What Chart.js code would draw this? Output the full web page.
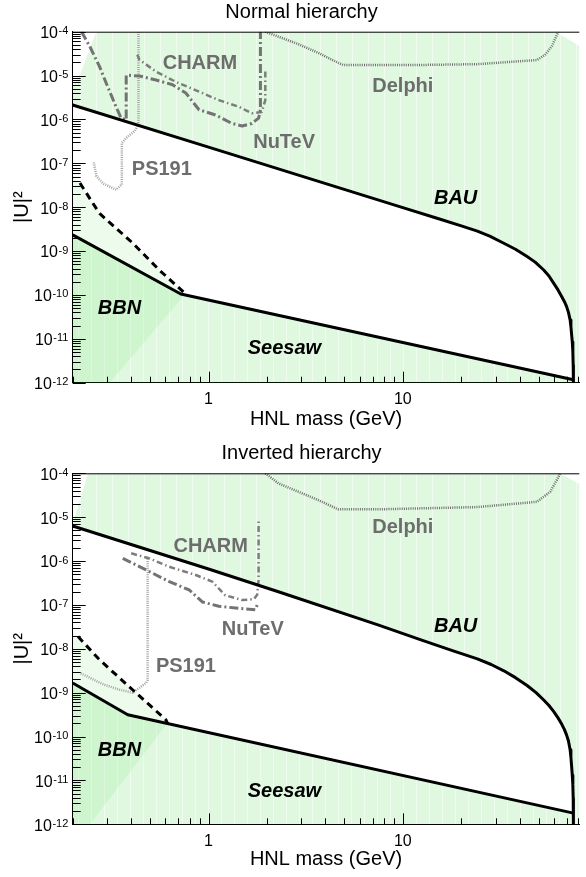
<!DOCTYPE html>
<html><head><meta charset="utf-8">
<script src="https://cdn.jsdelivr.net/npm/chart.js@4/dist/chart.umd.min.js"></script>
<style>html,body{margin:0;padding:0;background:#fff;}canvas{display:block;}</style>
</head><body>
<canvas id="nh" width="586" height="438"></canvas>
<canvas id="ih" width="586" height="439"></canvas>
<script>
// ---------------- axes ----------------
const massRange = [0.2, 81];
const couplingRange = [1e-12, 1e-4];
const massTickValues = [0.2,0.3,0.4,0.5,0.6,0.7,0.8,0.9,1,2,3,4,5,6,7,8,9,10,20,30,40,50,60,70,80];
const massLabelValues = [1, 10];
const massLabelTexts = ['1', '10'];
const couplingDecades = [1e-12,1e-11,1e-10,1e-9,1e-8,1e-7,1e-6,1e-5,1e-4];
const couplingLabelBase = '10';
const couplingLabelExponents = ['-12','-11','-10','-9','-8','-7','-6','-5','-4'];
const minorMultipliers = [2,3,4,5,6,7,8,9];

// ---------------- Normal hierarchy ----------------
const nhBauMass = [0.2, 1, 10, 15, 20, 24.2, 28, 33.1, 38, 43.6, 48, 53.1, 56.5, 59.7, 62.8, 65.8, 67.8, 69.6, 71.2, 72.6, 73.3, 73.8, 74.5, 75.0, 75.3, 75.5, 75.5];
const nhBauU    = [2.14e-6, 2.34e-7, 9.8e-9, 5.6e-9, 3.74e-9, 2.85e-9, 2.19e-9, 1.51e-9, 1.1e-9, 7.5e-10, 5.6e-10, 3.7e-10, 2.7e-10, 1.86e-10, 1.32e-10, 9.1e-11, 7.1e-11, 5.5e-11, 4.0e-11, 2.7e-11, 1.9e-11, 1.35e-11, 8.5e-12, 5.0e-12, 2.5e-12, 1.17e-12, 1e-12];
const nhSeesawMass = [0.2, 0.72, 75.5];
const nhSeesawU    = [2.34e-9, 1.05e-10, 1.17e-12];
const nhBbnMass = [0.218, 0.254, 0.275, 0.408, 0.558, 0.76];
const nhBbnU    = [3.55e-8, 1.23e-8, 7.2e-9, 1.51e-9, 3.7e-10, 1.07e-10];
const nhPs191Mass = [0.436, 0.436, 0.416, 0.377, 0.358, 0.358, 0.335, 0.286, 0.265, 0.256];
const nhPs191U    = [1e-4, 7.6e-7, 5.4e-7, 3.8e-7, 2.9e-7, 3.3e-8, 2.5e-8, 3.5e-8, 5.1e-8, 1.12e-7];
const nhNutevMass = [0.222, 0.245, 0.275, 0.298, 0.329, 0.355, 0.377, 0.377, 0.441, 0.537, 0.653, 0.764, 0.894, 1.09, 1.32, 1.49, 1.67, 1.81, 1.85, 1.85];
const nhNutevU    = [1e-4, 4.6e-5, 1.6e-5, 6.6e-6, 2.3e-6, 1.07e-6, 9.8e-7, 1.02e-5, 9.8e-6, 7.9e-6, 6.2e-6, 4.0e-6, 1.66e-6, 1.26e-6, 8.1e-7, 7.1e-7, 8.1e-7, 1.07e-6, 1.66e-6, 1e-4];
const nhCharmMass = [0.43, 0.441, 0.537, 0.68, 0.894, 1.13, 1.43, 1.67, 1.88, 1.96, 1.96];
const nhCharmU    = [3.0e-5, 2.3e-5, 1.23e-5, 7.2e-6, 4.3e-6, 2.75e-6, 1.95e-6, 1.38e-6, 1.48e-6, 2.75e-6, 1.35e-5];
const nhDelphiMass = [1.96, 2.9, 3.67, 4.65, 4.93, 11.9, 24.2, 49, 53.9, 58.5, 63.2];
const nhDelphiU    = [1e-4, 5.2e-5, 3.3e-5, 1.95e-5, 1.74e-5, 1.74e-5, 1.82e-5, 2.26e-5, 2.95e-5, 4.7e-5, 1e-4];
// region boundaries (excluded areas)
const nhBauEdgeMass = [81, 81, 61.4, 0.265, 0.219, 0.2];
const nhBauEdgeU    = [1e-12, 4.7e-5, 1e-4, 1e-4, 1.12e-5, 5.6e-6];
const nhBbnStartMass = [0.2];
const nhBbnStartU    = [5.2e-8];
const nhBbnEdgeMass = [0.31, 0.2];
const nhBbnEdgeU    = [1e-12, 1e-12];

// ---------------- Inverted hierarchy ----------------
const ihBauMass = [0.2, 1, 2.29, 7.45, 12.4, 18, 24.2, 28.5, 33.1, 38, 43.6, 48.5, 53.1, 56.5, 59.7, 62.8, 65.8, 67.8, 69.6, 71.2, 72.6, 73.3, 73.8, 74.5, 75.0, 75.3, 75.5, 75.5];
const ihBauU    = [6.3e-6, 6.6e-7, 2.0e-7, 3.5e-8, 1.6e-8, 9.1e-9, 5.9e-9, 4.39e-9, 3.15e-9, 2.2e-9, 1.46e-9, 1.0e-9, 6.8e-10, 5.1e-10, 3.75e-10, 2.7e-10, 1.9e-10, 1.46e-10, 1.09e-10, 7.9e-11, 5.0e-11, 3.4e-11, 2.3e-11, 1.32e-11, 7.9e-12, 4.0e-12, 1.15e-12, 1e-12];
const ihSeesawMass = [0.2, 0.384, 75.5];
const ihSeesawU    = [1.66e-9, 3.13e-10, 1.8e-12];
const ihBbnMass = [0.213, 0.275, 0.408, 0.604, 0.615];
const ihBbnU    = [1.9e-8, 5.6e-9, 1.15e-9, 2.4e-10, 2.0e-10];
const ihPs191Mass = [0.486, 0.486, 0.477, 0.408, 0.348, 0.287, 0.222, 0.218];
const ihPs191U    = [1.26e-6, 1.95e-9, 1.66e-9, 1.0e-9, 1.17e-9, 1.55e-9, 2.7e-9, 2.8e-9];
const ihCharmMass = [0.40, 0.496, 0.628, 0.86, 1.045, 1.22, 1.49, 1.71, 1.78, 1.81, 1.81];
const ihCharmU    = [1.5e-6, 1.15e-6, 7.4e-7, 4.8e-7, 3.4e-7, 1.66e-7, 1.29e-7, 1.35e-7, 1.7e-7, 3.7e-7, 8.7e-6];
const ihNutevMass = [0.362, 0.477, 0.628, 0.795, 0.93, 1.13, 1.38, 1.74, 1.78];
const ihNutevU    = [1.15e-6, 6.3e-7, 3.4e-7, 2.2e-7, 1.17e-7, 9.3e-8, 8.5e-8, 7.8e-8, 1.0e-7];
const ihDelphiMass = [1.96, 2.29, 2.9, 3.67, 4.65, 7.45, 24.2, 49, 57.4, 63.3, 64.4];
const ihDelphiU    = [1e-4, 5.9e-5, 3.8e-5, 2.45e-5, 1.51e-5, 1.51e-5, 1.7e-5, 2.24e-5, 3.8e-5, 8.3e-5, 1e-4];
const ihBauEdgeMass = [81, 81, 63.5, 0.24, 0.205, 0.2];
const ihBauEdgeU    = [1e-12, 5.8e-5, 1e-4, 1e-4, 1.0e-5, 6.3e-6];
const ihBbnStartMass = [0.2];
const ihBbnStartU    = [2.6e-8];
const ihBbnEdgeMass = [0.245, 0.2];
const ihBbnEdgeU    = [1e-12, 1e-12];

// ---------------- text annotations ----------------
const annotationTexts = ['CHARM', 'Delphi', 'NuTeV', 'PS191', 'BAU', 'BBN', 'Seesaw'];
const annotationKinds = ['exp', 'exp', 'exp', 'exp', 'model', 'model', 'model'];
const nhAnnotationMass = [0.903, 10.0, 2.45, 0.575, 18.7, 0.348, 2.46];
const nhAnnotationU    = [1.84e-5, 5.5e-6, 2.92e-7, 7.4e-8, 1.55e-8, 4.8e-11, 5.9e-12];
const ihAnnotationMass = [1.026, 10.0, 1.69, 0.765, 18.7, 0.348, 2.46];
const ihAnnotationU    = [2.14e-6, 5.7e-6, 2.8e-8, 4.0e-9, 3.2e-8, 4.7e-11, 5.5e-12];

// ---------------- helpers ----------------
const FONT = "'Liberation Sans', Arial, Helvetica, sans-serif";
Chart.defaults.font.family = FONT;
Chart.defaults.color = '#000';

const couplingTickValues = couplingDecades.concat(
  couplingDecades.slice(0, -1).flatMap(d => minorMultipliers.map(k => d * k))
).sort((a, b) => a - b);

const pts = (m, u) => m.map((x, i) => ({x: x, y: u[i]}));

function makePattern(alphaBase, alphaStripe, period) {
  const c = document.createElement('canvas');
  c.width = period; c.height = 4;
  const g = c.getContext('2d');
  g.fillStyle = 'rgba(40,210,40,' + alphaBase + ')';
  g.fillRect(1, 0, period - 1, 4);
  g.fillStyle = 'rgba(40,210,40,' + alphaStripe + ')';
  g.fillRect(0, 0, 1, 4);
  return g.createPattern(c, 'repeat');
}
const bauFill = makePattern(0.15, 0.07, 16);
const seesawFill = makePattern(0.15, 0.08, 13);
const bbnFill = 'rgba(40,210,40,0.085)';

function lineDs(m, u, color, width, dash) {
  return {data: pts(m, u), showLine: true, borderColor: color, borderWidth: width,
          borderDash: dash || [], pointRadius: 0, pointHoverRadius: 0, fill: false,
          tension: 0, order: 1, borderCapStyle: 'butt', borderJoinStyle: 'round'};
}
function regionDs(points, color) {
  return {data: points, showLine: true, borderWidth: 0, borderColor: 'rgba(0,0,0,0)',
          backgroundColor: color, pointRadius: 0, pointHoverRadius: 0, fill: 'shape',
          tension: 0, order: 10};
}

const panelDecor = {
  id: 'panelDecor',
  afterDatasetsDraw(chart, args, opts) {
    const {ctx, chartArea: a, scales} = chart;
    const x = scales.x, y = scales.y;
    ctx.save();
    ctx.strokeStyle = '#000';
    ctx.lineWidth = 1;
    ctx.beginPath();
    ctx.moveTo(a.left, a.top + 0.5); ctx.lineTo(a.right, a.top + 0.5);
    massTickValues.forEach(v => {
      const px = Math.round(x.getPixelForValue(v)) + 0.5;
      const len = massLabelValues.includes(v) ? 11 : 6;
      ctx.moveTo(px, a.bottom); ctx.lineTo(px, a.bottom - len);
    });
    couplingTickValues.forEach(v => {
      const py = Math.round(y.getPixelForValue(v)) + 0.5;
      const major = couplingDecades.some(d => Math.abs(v / d - 1) < 1e-6);
      const len = major ? 13 : 8;
      ctx.moveTo(a.left, py); ctx.lineTo(a.left + len, py);
    });
    ctx.stroke();
    // y tick labels: 10 with superscript exponent
    ctx.fillStyle = '#000';
    couplingDecades.forEach((d, i) => {
      const py = y.getPixelForValue(d) + 2;
      const right = a.left - 4.4;
      ctx.font = '11px ' + FONT;
      const supW = ctx.measureText(couplingLabelExponents[i]).width;
      ctx.textAlign = 'left';
      ctx.textBaseline = 'alphabetic';
      ctx.fillText(couplingLabelExponents[i], right - supW, py + 0.5);
      ctx.font = '16px ' + FONT;
      ctx.textAlign = 'right';
      ctx.textBaseline = 'middle';
      ctx.fillText(couplingLabelBase, right - supW - 0.5, py);
    });
    ctx.textAlign = 'center';
    ctx.textBaseline = 'middle';
    annotationTexts.forEach((t, i) => {
      const kind = annotationKinds[i];
      ctx.font = (kind === 'model' ? 'italic bold 20px ' : 'bold 20px ') + FONT;
      ctx.fillStyle = kind === 'model' ? '#000' : '#6d6d6d';
      ctx.fillText(t, x.getPixelForValue(opts.mass[i]), y.getPixelForValue(opts.u[i]));
    });
    ctx.restore();
  }
};

function buildPanel(id, cfg) {
  const datasets = [
    lineDs(cfg.bauM, cfg.bauU, '#000', 3),
    lineDs(cfg.seeM, cfg.seeU, '#000', 3),
    lineDs(cfg.bbnM, cfg.bbnU, '#000', 3, [7, 5]),
    lineDs(cfg.nutM, cfg.nutU, '#737373', 3, [9, 3, 2, 3]),
    lineDs(cfg.chaM, cfg.chaU, '#7d7d7d', 2.5, [6, 3, 1.5, 3]),
    lineDs(cfg.psM, cfg.psU, '#a3a3a3', 2.5, [1, 1.2]),
    lineDs(cfg.delM, cfg.delU, '#6e6e6e', 2.5, [1, 1.2]),
    regionDs(pts(cfg.bauM, cfg.bauU).concat(pts(cfg.bauEdgeM, cfg.bauEdgeU)), bauFill),
    regionDs([{x: massRange[0], y: couplingRange[0]}].concat(pts(cfg.seeM, cfg.seeU),
             [{x: cfg.seeM[cfg.seeM.length - 1], y: couplingRange[0]}]), seesawFill),
    regionDs(pts(cfg.bbnStartM, cfg.bbnStartU).concat(pts(cfg.bbnM, cfg.bbnU), pts(cfg.bbnEdgeM, cfg.bbnEdgeU)), bbnFill)
  ];
  return new Chart(document.getElementById(id), {
    type: 'scatter',
    data: {datasets},
    options: {
      responsive: false, animation: false, events: [],
      layout: {padding: {left: 20.3, right: 3.3, top: 0, bottom: 0}},
      plugins: {
        legend: {display: false}, tooltip: {enabled: false},
        title: {display: true, text: cfg.title, color: '#000',
                font: {size: 20, weight: 'normal', family: FONT},
                padding: cfg.titlePad},
        panelDecor: {mass: cfg.annM, u: cfg.annU}
      },
      scales: {
        x: {
          type: 'logarithmic', position: 'bottom', min: massRange[0], max: massRange[1],
          grid: {display: false, drawTicks: false},
          border: {display: true, color: '#000', width: 1},
          afterBuildTicks: s => { s.ticks = massTickValues.map(v => ({value: v})); },
          afterFit: s => { s.height = cfg.xHeight; },
          ticks: {autoSkip: false, maxRotation: 0, minRotation: 0, padding: 7.7, color: '#000',
                  font: {size: 16, family: FONT},
                  callback: v => { const i = massLabelValues.findIndex(d => Math.abs(v / d - 1) < 1e-6); return i >= 0 ? massLabelTexts[i] : ''; }},
          title: {display: true, text: 'HNL mass (GeV)', color: '#000',
                  font: {size: 20, family: FONT}, padding: {top: 0, bottom: cfg.xTitlePad}}
        },
        y: {
          type: 'logarithmic', position: 'left', min: couplingRange[0], max: couplingRange[1],
          grid: {display: false, drawTicks: false},
          border: {display: true, color: '#000', width: 1},
          afterBuildTicks: s => { s.ticks = couplingTickValues.map(v => ({value: v})); },
          afterFit: s => { s.width = 52.4; },
          ticks: {autoSkip: false, padding: 4.4, callback: () => ''},
          title: {display: true, text: '|U|²', color: '#000',
                  font: {size: 20, family: FONT}, padding: {top: -10, bottom: 0}}
        }
      }
    },
    plugins: [panelDecor]
  });
}

buildPanel('nh', {
  title: 'Normal hierarchy', titlePad: {top: 0, bottom: 7.7}, xHeight: 55.3, xTitlePad: 6.8,
  bauM: nhBauMass, bauU: nhBauU, seeM: nhSeesawMass, seeU: nhSeesawU,
  bbnM: nhBbnMass, bbnU: nhBbnU, nutM: nhNutevMass, nutU: nhNutevU,
  chaM: nhCharmMass, chaU: nhCharmU, psM: nhPs191Mass, psU: nhPs191U,
  delM: nhDelphiMass, delU: nhDelphiU,
  bauEdgeM: nhBauEdgeMass, bauEdgeU: nhBauEdgeU,
  bbnStartM: nhBbnStartMass, bbnStartU: nhBbnStartU, bbnEdgeM: nhBbnEdgeMass, bbnEdgeU: nhBbnEdgeU,
  annM: nhAnnotationMass, annU: nhAnnotationU
});
buildPanel('ih', {
  title: 'Inverted hierarchy', titlePad: {top: 3, bottom: 8.3}, xHeight: 52.7, xTitlePad: 5.3,
  bauM: ihBauMass, bauU: ihBauU, seeM: ihSeesawMass, seeU: ihSeesawU,
  bbnM: ihBbnMass, bbnU: ihBbnU, nutM: ihNutevMass, nutU: ihNutevU,
  chaM: ihCharmMass, chaU: ihCharmU, psM: ihPs191Mass, psU: ihPs191U,
  delM: ihDelphiMass, delU: ihDelphiU,
  bauEdgeM: ihBauEdgeMass, bauEdgeU: ihBauEdgeU,
  bbnStartM: ihBbnStartMass, bbnStartU: ihBbnStartU, bbnEdgeM: ihBbnEdgeMass, bbnEdgeU: ihBbnEdgeU,
  annM: ihAnnotationMass, annU: ihAnnotationU
});
</script>
</body></html>
